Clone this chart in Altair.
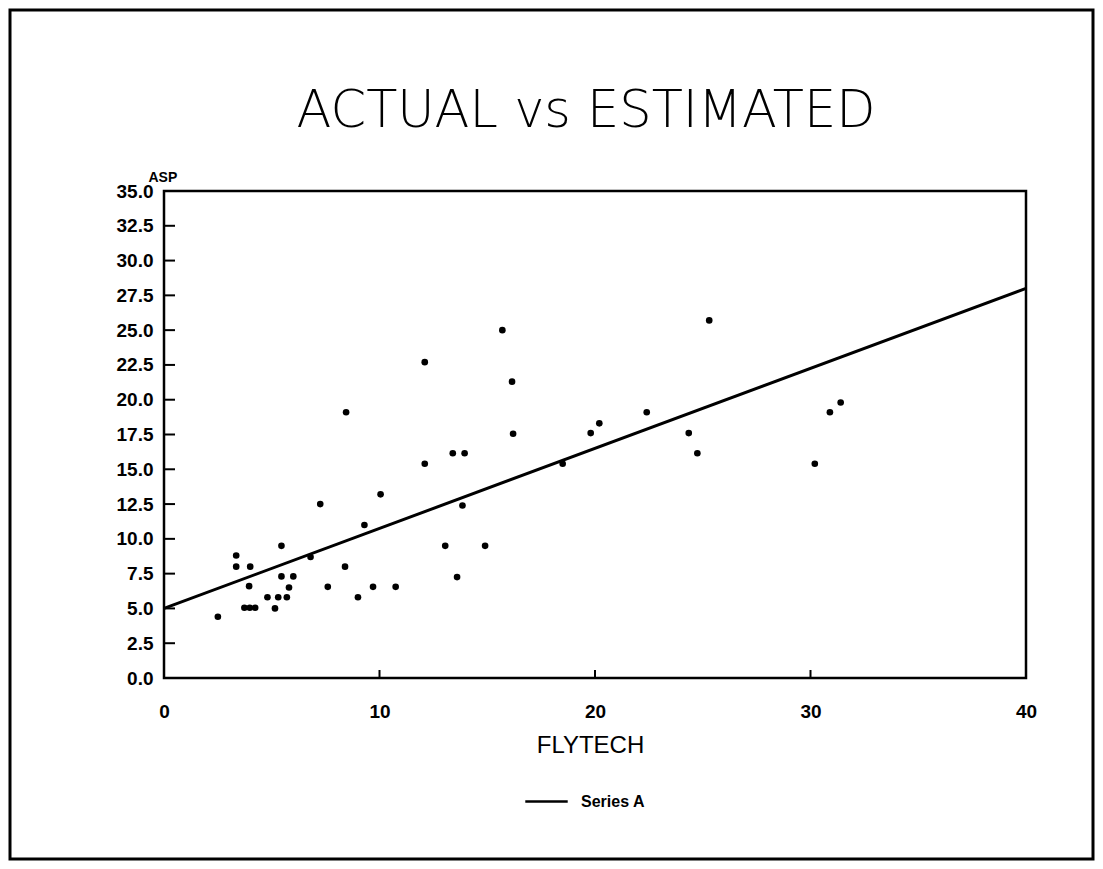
import altair as alt
import pandas as pd

# ---- data ----
flytech = [2.5, 3.35, 3.35, 4.0, 3.95, 3.73, 3.98, 4.23, 4.8, 5.15, 5.3, 5.7, 5.8, 5.45,
           6.0, 5.45, 6.8, 7.25, 7.6, 8.45, 8.4, 9.0, 9.3, 9.7, 10.05, 10.75, 12.1, 12.1,
           15.7, 16.15, 16.2, 13.4, 13.95, 13.85, 13.05, 14.9, 13.6, 18.5, 19.8, 20.2,
           22.4, 25.3, 24.35, 24.75, 30.9, 31.4, 30.2]
asp = [4.4, 8.8, 8.0, 8.0, 6.6, 5.05, 5.05, 5.05, 5.8, 5.0, 5.8, 5.8, 6.5, 7.3,
       7.3, 9.5, 8.7, 12.5, 6.55, 19.1, 8.0, 5.8, 11.0, 6.55, 13.2, 6.55, 22.7, 15.4,
       25.0, 21.3, 17.55, 16.15, 16.15, 12.4, 9.5, 9.5, 7.25, 15.4, 17.6, 18.3,
       19.1, 25.7, 17.6, 16.15, 19.1, 19.8, 15.4]
line_x = [0, 40]
line_y = [5.0, 28.0]
series_name = ["Series A", "Series A"]
y_tick_values = [0.0, 2.5, 5.0, 7.5, 10.0, 12.5, 15.0, 17.5, 20.0, 22.5, 25.0, 27.5, 30.0, 32.5, 35.0]
x_tick_values = [0, 10, 20, 30, 40]
title_text = ["ACTUAL vs ESTIMATED"]

pts = pd.DataFrame({"FLYTECH": flytech, "ASP": asp})
fit = pd.DataFrame({"FLYTECH": line_x, "ASP": line_y, "series": series_name})
yt = pd.DataFrame({"ASP": y_tick_values})
xt = pd.DataFrame({"FLYTECH": [v for v in x_tick_values if 0 < v < 40]})
tt = pd.DataFrame({"t": title_text})

FONT = "Liberation Sans"

xscale = alt.Scale(domain=[0, 40], nice=False, zero=False)
yscale = alt.Scale(domain=[0, 35], nice=False, zero=False)

xaxis = alt.Axis(values=x_tick_values, format="d", title="FLYTECH", grid=False,
                 domain=False, ticks=False, labelPadding=24, labelFont=FONT,
                 labelFontSize=19, labelFontWeight="bold", labelColor="black",
                 titleFont=FONT, titleFontSize=24, titleFontWeight="normal",
                 titleColor="black", titlePadding=12, labelFlush=False,
                 labelOverlap=False, titleX=426)
yaxis = alt.Axis(values=y_tick_values, format=".1f", title="ASP", grid=False,
                 domain=False, ticks=False, labelPadding=11, labelFont=FONT,
                 labelFontSize=19, labelFontWeight="bold", labelColor="black",
                 titleFont=FONT, titleFontSize=14, titleFontWeight="bold",
                 titleColor="black", titleAngle=0, titleX=-16, titleY=-7,
                 titleAlign="left", titleBaseline="bottom", labelFlush=False,
                 labelOverlap=False, labelSeparation=0)

X = lambda: alt.X("FLYTECH:Q", scale=xscale, axis=xaxis)
Y = lambda: alt.Y("ASP:Q", scale=yscale, axis=yaxis)

points = alt.Chart(pts).mark_circle(size=44, color="black", opacity=1).encode(
    x=X(), y=Y())

line = alt.Chart(fit).mark_line(strokeWidth=3).encode(
    x=X(), y=Y(),
    color=alt.Color("series:N", scale=alt.Scale(range=["black"]),
                    legend=alt.Legend(title=None, orient="none", legendX=360,
                                      legendY=588, symbolType="stroke",
                                      symbolSize=1800, symbolStrokeWidth=2.5,
                                      labelFont=FONT, labelFontSize=16,
                                      labelFontWeight="bold", labelColor="black",
                                      labelOffset=12)),
)

yticks = alt.Chart(yt).mark_rule(color="black", strokeWidth=2).encode(
    y=Y(), x=alt.value(0), x2=alt.value(11))
xticks = alt.Chart(xt).mark_rule(color="black", strokeWidth=2).encode(
    x=X(), y=alt.value(487), y2=alt.value(479))

frame = alt.Chart(alt.Data(values=[{"a": 0}])).mark_rect(
    fill=None, stroke="black", strokeWidth=3).encode(
    x=alt.value(-154), x2=alt.value(929), y=alt.value(-181), y2=alt.value(668))

title = alt.Chart(tt).mark_text(font="DejaVu Sans", fontWeight=200, fontSize=51,
                                color="black", align="center",
                                baseline="alphabetic").encode(
    text="t:N", x=alt.value(422), y=alt.value(-64))

chart = alt.layer(frame, title, yticks, xticks, points, line).properties(
    width=862, height=487,
    padding={"left": 156, "top": 183, "right": 69, "bottom": 183},
    autosize=alt.AutoSizeParams(type="none"),
    background="white",
).configure_view(stroke="black", strokeWidth=2.5)

chart.save("out.html", embed_options={"renderer": "svg", "actions": False})
